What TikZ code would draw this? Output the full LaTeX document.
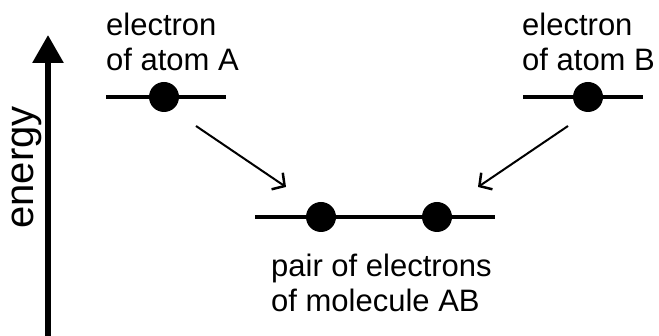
\documentclass[tikz,border=0pt]{standalone}
\usepackage{fontspec}
\setmainfont{Liberation Sans}
\usetikzlibrary{arrows.meta}
\tikzset{
  level/.style={line width=4pt},
  electron/.style={circle, fill=black, inner sep=0pt, minimum size=30pt},
  lbl/.style={anchor=base west, inner sep=0pt, align=left,
    font=\fontsize{31}{35.5}\selectfont},
  transition/.style={line width=2pt, -{Straight Barb[length=9pt,width=20pt,line width=2.5pt]}},
  axis/.style={line width=6pt, -{Triangle[length=28pt,width=30pt]}}
}
\begin{document}
\begin{tikzpicture}[x=1pt,y=-1pt]
  \useasboundingbox (0,0) rectangle (659,336);

  % energy axis
  \coordinate (axBot) at (48,336);
  \coordinate (axTop) at (48,35);
  \draw[axis] (axBot) -- (axTop);
  \node[rotate=90, anchor=base, inner sep=0pt, font=\fontsize{40}{40}\selectfont]
    (energy) at (34,167.5) {energy};

  % atom A level (labels anchored at the baseline of their last line)
  \coordinate (aL) at (106,97);
  \coordinate (aR) at (226,97);
  \draw[level] (aL) -- (aR);
  \node[electron] (eA) at (164,97) {};
  \node[lbl] (txtA) at (106,71) {electron\\of atom A};

  % atom B level
  \coordinate (bL) at (523,97);
  \coordinate (bR) at (643,97);
  \draw[level] (bL) -- (bR);
  \node[electron] (eB) at (588,97) {};
  \node[lbl] (txtB) at (522,71) {electron\\of atom B};

  % molecular level
  \coordinate (mL) at (255,217);
  \coordinate (mR) at (495,217);
  \draw[level] (mL) -- (mR);
  \node[electron] (eM1) at (321,217) {};
  \node[electron] (eM2) at (437,217) {};
  \node[lbl] (txtM) at (271,312) {pair of electrons\\of molecule AB};

  % transitions
  \coordinate (sA) at (196,126);
  \coordinate (tA) at (286,187);
  \coordinate (sB) at (568,126);
  \coordinate (tB) at (478,187);
  \draw[transition] (sA) -- (tA);
  \draw[transition] (sB) -- (tB);
\end{tikzpicture}
\end{document}
